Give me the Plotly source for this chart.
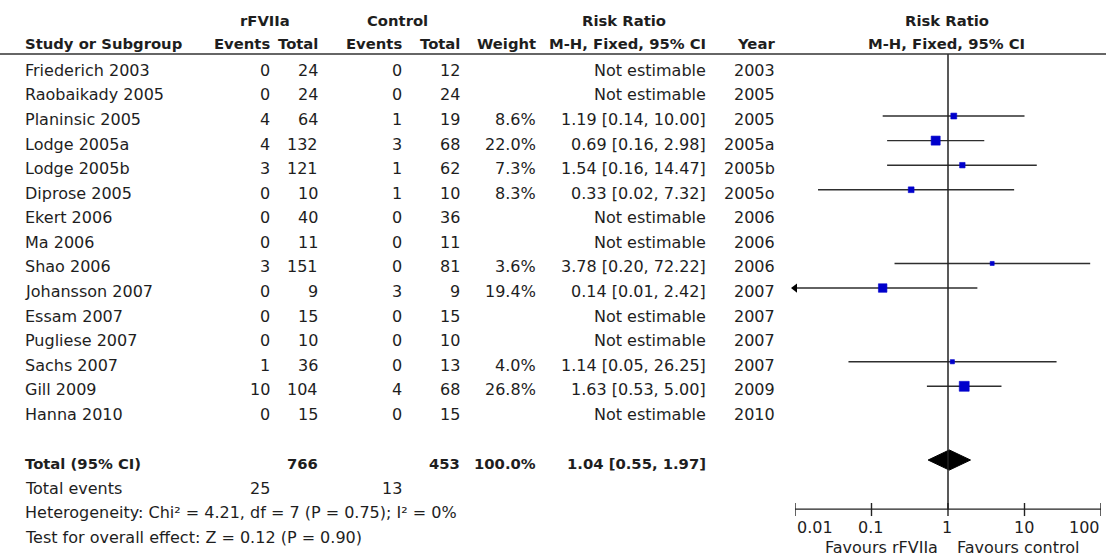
import math
import plotly.graph_objects as go

# ---------------- data ----------------
studies = ["Friederich 2003", "Raobaikady 2005", "Planinsic 2005", "Lodge 2005a", "Lodge 2005b",
           "Diprose 2005", "Ekert 2006", "Ma 2006", "Shao 2006", "Johansson 2007",
           "Essam 2007", "Pugliese 2007", "Sachs 2007", "Gill 2009", "Hanna 2010"]
ev_trt = [0, 0, 4, 4, 3, 0, 0, 0, 3, 0, 0, 0, 1, 10, 0]
tot_trt = [24, 24, 64, 132, 121, 10, 40, 11, 151, 9, 15, 10, 36, 104, 15]
ev_ctl = [0, 0, 1, 3, 1, 1, 0, 0, 0, 3, 0, 0, 0, 4, 0]
tot_ctl = [12, 24, 19, 68, 62, 10, 36, 11, 81, 9, 15, 10, 13, 68, 15]
weight = [None, None, 8.6, 22.0, 7.3, 8.3, None, None, 3.6, 19.4, None, None, 4.0, 26.8, None]
rr = [None, None, 1.19, 0.69, 1.54, 0.33, None, None, 3.78, 0.14, None, None, 1.14, 1.63, None]
ci_lo = [None, None, 0.14, 0.16, 0.16, 0.02, None, None, 0.20, 0.01, None, None, 0.05, 0.53, None]
ci_hi = [None, None, 10.00, 2.98, 14.47, 7.32, None, None, 72.22, 2.42, None, None, 26.25, 5.00, None]
years = ["2003", "2005", "2005", "2005a", "2005b", "2005o", "2006", "2006", "2006", "2007",
         "2007", "2007", "2007", "2009", "2010"]

total_trt = 766
total_ctl = 453
total_weight = "100.0%"
total_rr, total_lo, total_hi = 1.04, 0.55, 1.97
total_ev_trt = 25
total_ev_ctl = 13
heterogeneity = "Heterogeneity: Chi² = 4.21, df = 7 (P = 0.75); I² = 0%"
overall = "Test for overall effect: Z = 0.12 (P = 0.90)"

axis_ticks = [0.01, 0.1, 1, 10, 100]
axis_ticktext = ["0.01", "0.1", "1", "10", "100"]
favours_left = "Favours rFVIIa"
favours_right = "Favours control"

# ---------------- layout geometry ----------------
W, H = 1106, 556
ROW0 = 66.9      # pixel y of row 0 line
ROWH = 24.57     # row pitch
TOTAL_ROW = 16
AXIS_ROW = 18
FONT = "DejaVu Sans"
TXT = "#1e1e1e"
FS = 16
FSB = 14.8


def row_of(p):
    return (p - ROW0) / ROWH


def px(x):
    return x / W


def fmt(v):
    return f"{v:.2f}"


fig = go.Figure()
ann = []


def text(x, yrow, s, anchor="right", bold=False, size=None, dy=0.14):
    ann.append(dict(
        x=px(x), xref="paper", y=yrow + dy, yref="y",
        text=f"<b>{s}</b>" if bold else s,
        showarrow=False, xanchor=anchor, yanchor="middle",
        font=dict(family=FONT, size=size or (FSB if bold else FS), color=TXT),
    ))


# headers
h1 = row_of(20) - 0.14
h2 = row_of(43) - 0.14
text(265, h1, "rFVIIa", "center", True)
text(397, h1, "Control", "center", True)
text(624, h1, "Risk Ratio", "center", True)
text(947, h1, "Risk Ratio", "center", True)
text(23, h2, "Study or Subgroup", "left", True)
text(272, h2, "Events", "right", True)
text(320, h2, "Total", "right", True)
text(404, h2, "Events", "right", True)
text(462, h2, "Total", "right", True)
text(538, h2, "Weight", "right", True)
text(708, h2, "M-H, Fixed, 95% CI", "right", True)
text(777, h2, "Year", "right", True)
text(946, h2, "M-H, Fixed, 95% CI", "center", True)

# study rows
for i, s in enumerate(studies):
    text(23, i, s, "left")
    text(272, i, str(ev_trt[i]))
    text(320, i, str(tot_trt[i]))
    text(404, i, str(ev_ctl[i]))
    text(462, i, str(tot_ctl[i]))
    if weight[i] is not None:
        text(538, i, f"{weight[i]:.1f}%")
        text(708, i, f"{fmt(rr[i])} [{fmt(ci_lo[i])}, {fmt(ci_hi[i])}]")
    else:
        text(708, i, "Not estimable")
    text(777, i, years[i])

# totals
text(23, TOTAL_ROW, "Total (95% CI)", "left", True)
text(320, TOTAL_ROW, str(total_trt), "right", True)
text(462, TOTAL_ROW, str(total_ctl), "right", True)
text(538, TOTAL_ROW, total_weight, "right", True)
text(708, TOTAL_ROW, f"{fmt(total_rr)} [{fmt(total_lo)}, {fmt(total_hi)}]", "right", True)
text(23, TOTAL_ROW + 1, "Total events", "left")
text(272, TOTAL_ROW + 1, str(total_ev_trt))
text(404, TOTAL_ROW + 1, str(total_ev_ctl))
text(23, TOTAL_ROW + 2, heterogeneity, "left")
text(23, TOTAL_ROW + 3, overall, "left")

# axis labels (tick text and favours)
tick_px = {0.01: (795, "left"), 0.1: (870.7, "center"), 1: (947.3, "center"),
           10: (1024, "center"), 100: (1102, "right")}
for t, lab in zip(axis_ticks, axis_ticktext):
    xp, anc = tick_px[t]
    text(xp, row_of(527), lab, anc, dy=0)
text(940, row_of(547), favours_left, "right", dy=0)
text(955, row_of(547), favours_right, "left", dy=0)

# ---------------- forest plot marks ----------------
LINE = "#2e2e2e"
xs, ys = [], []
for i in range(len(studies)):
    if rr[i] is None:
        continue
    xs += [max(ci_lo[i], axis_ticks[0]), min(ci_hi[i], axis_ticks[-1]), None]
    ys += [i, i, None]
fig.add_trace(go.Scatter(x=xs, y=ys, mode="lines", line=dict(color=LINE, width=1.4),
                         hoverinfo="skip", showlegend=False))

# arrows for CIs that reach the axis limit
arr_idx = [i for i in range(len(studies)) if rr[i] is not None and ci_lo[i] <= axis_ticks[0]]
fig.add_trace(go.Scatter(x=[axis_ticks[0]] * len(arr_idx), y=arr_idx, mode="markers",
                         marker=dict(symbol="triangle-left", size=8, color="black", opacity=1),
                         cliponaxis=False, hoverinfo="skip", showlegend=False))

# squares
idx = [i for i in range(len(studies)) if rr[i] is not None]
fig.add_trace(go.Scatter(x=[rr[i] for i in idx], y=idx, mode="markers",
                         marker=dict(symbol="square", size=[1.8 * math.sqrt(weight[i]) + 0.6 for i in idx],
                                     color="#0000cc", opacity=1, line=dict(width=0.6, color="#0000cc")),
                         hoverinfo="skip", showlegend=False))

# diamond
dh = 0.41
fig.add_trace(go.Scatter(
    x=[total_lo, total_rr, total_hi, total_rr, total_lo],
    y=[TOTAL_ROW, TOTAL_ROW - dh, TOTAL_ROW, TOTAL_ROW + dh, TOTAL_ROW],
    mode="lines", fill="toself", fillcolor="black", line=dict(color="black", width=1),
    hoverinfo="skip", showlegend=False))

# vertical line of no effect
fig.add_trace(go.Scatter(x=[1, 1], y=[row_of(54), AXIS_ROW], mode="lines",
                         line=dict(color="#222", width=1.5), hoverinfo="skip", showlegend=False))

# axis line and ticks
fig.add_trace(go.Scatter(x=[axis_ticks[0], axis_ticks[-1]], y=[AXIS_ROW, AXIS_ROW], mode="lines",
                         line=dict(color="#222", width=1.4), cliponaxis=False,
                         hoverinfo="skip", showlegend=False))
tx, ty = [], []
for t in axis_ticks:
    tx += [t, t, None]
    ty += [AXIS_ROW - 0.25, AXIS_ROW + 0.28, None]
fig.add_trace(go.Scatter(x=tx, y=ty, mode="lines", line=dict(color="#222", width=1.4),
                         cliponaxis=False, hoverinfo="skip", showlegend=False))

# header rule
shapes = [dict(type="line", xref="paper", yref="paper", x0=0, x1=1,
               y0=1 - 54 / H, y1=1 - 54 / H, line=dict(color="#333", width=1.5))]

fig.update_layout(
    width=W, height=H,
    margin=dict(l=0, r=0, t=0, b=0),
    paper_bgcolor="white", plot_bgcolor="white",
    xaxis=dict(type="log", range=[math.log10(axis_ticks[0]), math.log10(axis_ticks[-1])],
               domain=[795 / W, 1101 / W], visible=False, fixedrange=True),
    yaxis=dict(range=[row_of(H), row_of(0)], domain=[0, 1], visible=False, fixedrange=True),
    annotations=ann,
    shapes=shapes,
    showlegend=False,
)

fig.write_html("out.html", config={"displayModeBar": False},
               post_script="document.body.style.margin='0px';document.body.style.overflow='hidden';")
